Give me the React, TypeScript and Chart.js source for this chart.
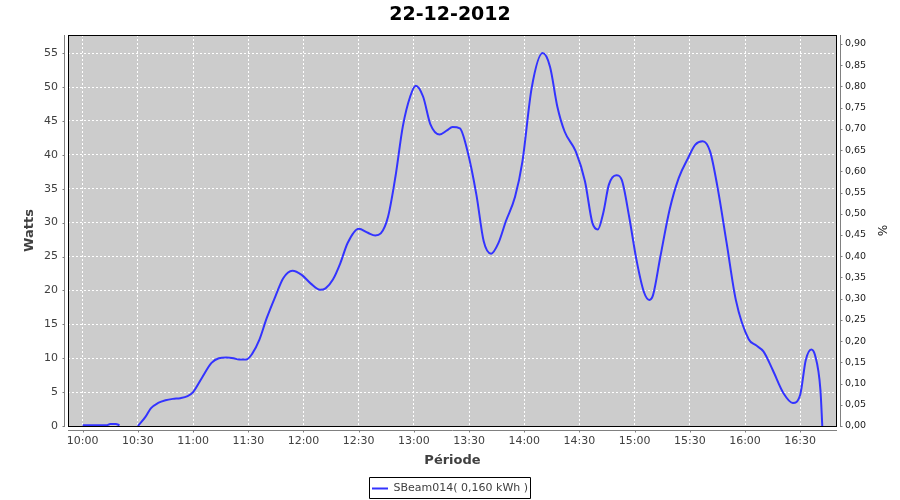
import React, { useEffect, useRef } from 'react';
import { Chart, registerables } from 'chart.js';

Chart.register(...registerables);

const CHART_TITLE = '22-12-2012';
const SERIES_LABEL = 'SBeam014( 0,160 kWh )';
const X_TITLE = 'Période';
const Y_TITLE = 'Watts';
const Y2_TITLE = '%';

const times = [
  '10:00', '10:05', '10:10', '10:13', '10:15', '10:18', '10:20', '10:25', '10:30', '10:34',
  '10:37', '10:41', '10:45', '10:49', '10:53', '10:57', '11:00', '11:05', '11:10', '11:14',
  '11:18', '11:22', '11:25', '11:29', '11:32', '11:36', '11:40', '11:45', '11:49', '11:54',
  '11:59', '12:04', '12:09', '12:12', '12:16', '12:20', '12:24', '12:30', '12:35', '12:39',
  '12:42', '12:46', '12:50', '12:54', '12:58', '13:01', '13:05', '13:09', '13:14', '13:18',
  '13:21', '13:25', '13:29', '13:34', '13:38', '13:42', '13:46', '13:50', '13:55', '13:59',
  '14:04', '14:10', '14:14', '14:18', '14:22', '14:28', '14:33', '14:37', '14:40', '14:43',
  '14:46', '14:50', '14:53', '14:57', '15:01', '15:05', '15:08', '15:10', '15:14', '15:19',
  '15:24', '15:29', '15:33', '15:37', '15:41', '15:45', '15:50', '15:55', '16:02', '16:06',
  '16:10', '16:15', '16:21', '16:26', '16:30', '16:33', '16:36', '16:38', '16:41', '16:42',
];

const watts: (number | null)[] = [
  0.1, 0.1, 0.1, 0.1, 0.3, 0.3, 0.1, null, 0, 1.3,
  2.6, 3.4, 3.8, 4.0, 4.1, 4.4, 5.0, 7.2, 9.3, 10.0,
  10.1, 10.0, 9.8, 9.8, 10.6, 12.7, 15.9, 19.3, 21.8, 22.9,
  22.3, 21.0, 20.1, 20.3, 21.6, 24.0, 27.0, 29.1, 28.5, 28.1,
  28.4, 30.9, 36.8, 44.2, 48.6, 50.2, 48.6, 44.5, 43.0, 43.6,
  44.1, 43.9, 40.7, 34.1, 27.2, 25.4, 27.0, 30.2, 33.8, 39.0,
  49.8, 55.0, 53.0, 47.1, 43.4, 40.5, 36.1, 30.0, 29.0, 31.5,
  35.6, 37.0, 36.3, 30.9, 24.5, 19.8, 18.6, 19.3, 25.0, 31.9,
  36.6, 39.5, 41.5, 42.0, 40.5, 35.3, 27.0, 18.6, 12.8, 11.9,
  11.0, 8.3, 4.8, 3.4, 4.6, 9.7, 11.3, 10.5, 5.3, 0,
];

const xTickLabels = [
  '10:00', '10:30', '11:00', '11:30', '12:00', '12:30', '13:00',
  '13:30', '14:00', '14:30', '15:00', '15:30', '16:00', '16:30',
];
const leftTicks = [0, 5, 10, 15, 20, 25, 30, 35, 40, 45, 50, 55];
const rightTicks = [
  0, 0.05, 0.1, 0.15, 0.2, 0.25, 0.3, 0.35, 0.4, 0.45,
  0.5, 0.55, 0.6, 0.65, 0.7, 0.75, 0.8, 0.85, 0.9,
];

// axis ranges (minutes after 10:00 for x)
const X_MIN = -8;
const X_MAX = 410;
const Y_MAX = 57.67;
const Y2_MAX = 0.921;

const toMin = (s: string) => {
  const [h, m] = s.split(':').map(Number);
  return (h - 10) * 60 + m;
};
const fmtMin = (v: number) => {
  const t = Math.round(v) + 600;
  const h = Math.floor(t / 60);
  const m = t % 60;
  return `${h}:${m < 10 ? '0' : ''}${m}`;
};

const FONT = 'DejaVu Sans';
const AXIS_GRAY = '#808080';
const TEXT_GRAY = '#404040';

const jfreePlugin = {
  id: 'jfreeLook',
  beforeDraw(chart: any) {
    const { ctx, chartArea: a } = chart;
    ctx.save();
    ctx.fillStyle = '#cccccc';
    ctx.fillRect(a.left, a.top, a.right - a.left, a.bottom - a.top);
    ctx.restore();
  },
  afterDatasetsDraw(chart: any) {
    const { ctx, chartArea: a } = chart;
    ctx.save();
    ctx.strokeStyle = '#000000';
    ctx.lineWidth = 1;
    ctx.strokeRect(Math.round(a.left) + 0.5, Math.round(a.top) + 0.5,
      Math.round(a.right - a.left) - 1, Math.round(a.bottom - a.top));
    ctx.restore();
  },
  afterDraw(chart: any) {
    const { ctx, chartArea: a, scales } = chart;
    ctx.save();
    ctx.strokeStyle = AXIS_GRAY;
    ctx.lineWidth = 1;
    ctx.beginPath();
    // left axis
    const lx = Math.round(a.left) - 3.5;
    ctx.moveTo(lx, a.top);
    ctx.lineTo(lx, a.bottom + 1);
    leftTicks.forEach((v) => {
      const y = Math.round(scales.y.getPixelForValue(v)) + 0.5;
      ctx.moveTo(lx - 2, y);
      ctx.lineTo(lx, y);
    });
    // bottom axis
    const by = Math.round(a.bottom) + 4.5;
    ctx.moveTo(a.left, by);
    ctx.lineTo(a.right, by);
    xTickLabels.forEach((l) => {
      const x = Math.round(scales.x.getPixelForValue(toMin(l))) + 0.5;
      ctx.moveTo(x, by);
      ctx.lineTo(x, by + 2);
    });
    // right axis
    const rx = Math.round(a.right) + 3.5;
    ctx.moveTo(rx, a.top);
    ctx.lineTo(rx, a.bottom + 1);
    rightTicks.forEach((v) => {
      const y = Math.round(scales.y1.getPixelForValue(v)) + 0.5;
      ctx.moveTo(rx, y);
      ctx.lineTo(rx + 2, y);
    });
    ctx.stroke();

    // legend frame
    const hb = chart.legend && chart.legend.legendHitBoxes && chart.legend.legendHitBoxes[0];
    if (hb) {
      ctx.strokeStyle = '#000000';
      ctx.beginPath();
      ctx.rect(Math.round(hb.left) - 2.5, Math.round(hb.top) - 5.5,
        Math.round(hb.width) + 5, Math.round(hb.height) + 10);
      ctx.stroke();
    }
    ctx.restore();
  },
};

export default function App() {
  const ref = useRef<HTMLCanvasElement | null>(null);

  useEffect(() => {
    if (!ref.current) return;
    const data = times.map((t, i) => ({ x: toMin(t), y: watts[i] }));
    const chart = new Chart(ref.current, {
      type: 'line',
      data: {
        datasets: [
          {
            label: SERIES_LABEL,
            data: data as any,
            borderColor: '#3333ff',
            backgroundColor: '#3333ff',
            borderWidth: 2,
            pointRadius: 0,
            pointStyle: 'line',
            cubicInterpolationMode: 'monotone',
            spanGaps: false,
            yAxisID: 'y',
          },
        ],
      },
      options: {
        responsive: false,
        animation: false,
        devicePixelRatio: 1,
        layout: { padding: { top: 0, left: 0, right: 0, bottom: -4 } },
        plugins: {
          title: {
            display: true,
            text: CHART_TITLE,
            color: '#000000',
            font: { family: FONT, size: 19, weight: 'bold' },
            padding: { top: 4, bottom: 8.2 },
          },
          legend: {
            display: true,
            position: 'bottom',
            labels: {
              usePointStyle: true,
              pointStyle: 'line',
              pointStyleWidth: 16,
              color: TEXT_GRAY,
              font: { family: FONT, size: 11 },
              padding: 11,
            },
          },
          tooltip: { enabled: false },
        },
        scales: {
          x: {
            type: 'linear',
            min: X_MIN,
            max: X_MAX,
            afterBuildTicks: (s: any) => {
              s.ticks = xTickLabels.map((l) => ({ value: toMin(l) }));
            },
            afterFit: (s: any) => {
              s.height = 46;
            },
            ticks: {
              callback: (v: any) => fmtMin(Number(v)),
              color: TEXT_GRAY,
              font: { family: FONT, size: 11 },
              padding: 9,
              maxRotation: 0,
              autoSkip: false,
            },
            grid: { color: '#ffffff', lineWidth: 1, drawTicks: false },
            border: { display: false, dash: [2, 2] },
            title: {
              display: true,
              text: X_TITLE,
              color: TEXT_GRAY,
              font: { family: FONT, size: 13, weight: 'bold' },
              padding: { top: 0, bottom: 4 },
            },
          },
          y: {
            type: 'linear',
            position: 'left',
            min: 0,
            max: Y_MAX,
            afterBuildTicks: (s: any) => {
              s.ticks = leftTicks.map((v) => ({ value: v }));
            },
            afterFit: (s: any) => {
              s.width = 68;
            },
            ticks: {
              color: TEXT_GRAY,
              font: { family: FONT, size: 11 },
              padding: 10,
            },
            grid: { color: '#ffffff', lineWidth: 1, drawTicks: false },
            border: { display: false, dash: [2, 2] },
            title: {
              display: true,
              text: Y_TITLE,
              color: TEXT_GRAY,
              font: { family: FONT, size: 13, weight: 'bold' },
              padding: { top: 22, bottom: 0 },
            },
          },
          y1: {
            type: 'linear',
            position: 'right',
            min: 0,
            max: Y2_MAX,
            afterBuildTicks: (s: any) => {
              s.ticks = rightTicks.map((v) => ({ value: v }));
            },
            afterFit: (s: any) => {
              s.width = 63;
            },
            ticks: {
              callback: (v: any) => Number(v).toFixed(2).replace('.', ','),
              color: '#202020',
              font: { family: FONT, size: 9.5 },
              padding: 8,
            },
            grid: { drawOnChartArea: false, drawTicks: false },
            border: { display: false },
            title: {
              display: true,
              text: Y2_TITLE,
              color: '#202020',
              font: { family: FONT, size: 12 },
              padding: { top: 12, bottom: 0 },
            },
          },
        },
      } as any,
      plugins: [jfreePlugin],
    });
    return () => chart.destroy();
  }, []);

  return (
    <div style={{ position: 'fixed', left: 0, top: 0, width: 900, height: 500, background: '#ffffff' }}>
      <canvas ref={ref} width={900} height={500} style={{ display: 'block' }} />
    </div>
  );
}
